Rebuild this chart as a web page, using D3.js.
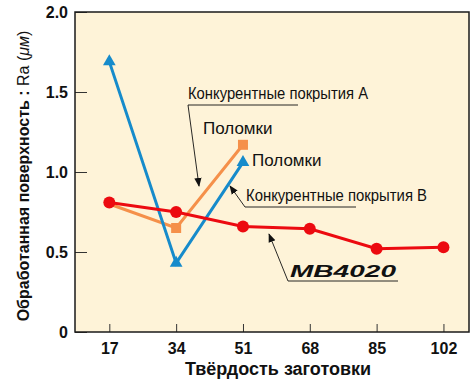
<!DOCTYPE html>
<html>
<head>
<meta charset="utf-8">
<script src="https://cdn.jsdelivr.net/npm/d3@7"></script>
<style>
  html, body { margin: 0; padding: 0; background: #ffffff; }
  svg { display: block; font-family: "Liberation Sans", Arial, sans-serif; }
</style>
</head>
<body>
<svg id="chart" width="470" height="380"></svg>
<script>
// Workpiece hardness on the x axis
const hardness = [17, 34, 51, 68, 85, 102];
// Surface roughness Ra (µm) for each tool
const mb4020 = [0.81, 0.75, 0.66, 0.645, 0.52, 0.53];
const hardnessA = [17, 34, 51];
const coatingA = [0.80, 0.65, 1.17];
const hardnessB = [17, 34, 51];
const coatingB = [1.69, 0.43, 1.06];
// Axis ticks
const yTicks = [0, 0.5, 1.0, 1.5, 2.0];
const yTickLabels = ["0", "0.5", "1.0", "1.5", "2.0"];

const svg = d3.select("#chart");
const plotL = 75, plotR = 469, plotT = 12, plotB = 332;

const x = d3.scaleLinear().domain([8.27, 108.5]).range([plotL, plotR]);
const y = d3.scaleLinear().domain([0, 2]).range([plotB, plotT]);

const RED = "#ec0a10", ORANGE = "#f5904a", BLUE = "#168bcb";

// plot background
svg.append("rect")
  .attr("x", plotL).attr("y", plotT)
  .attr("width", plotR - plotL).attr("height", plotB - plotT)
  .attr("fill", "#fef3d8");

// axes with inward ticks
const yAxis = d3.axisLeft(y).tickValues(yTicks)
  .tickFormat((d, i) => yTickLabels[i])
  .tickSizeInner(-12).tickSizeOuter(0).tickPadding(7);
const gy = svg.append("g").attr("transform", `translate(${plotL},0)`).call(yAxis);
gy.select(".domain").remove();
gy.selectAll("text").attr("x", -7)
  .style("font-size", "16px").style("font-weight", "bold").attr("fill", "#111");
gy.selectAll("line").attr("stroke", "#333").attr("stroke-width", 1);

const xAxis = d3.axisBottom(x).tickValues(hardness)
  .tickSizeInner(-8).tickSizeOuter(0).tickPadding(11);
const gx = svg.append("g").attr("transform", `translate(0,${plotB})`).call(xAxis);
gx.select(".domain").remove();
gx.selectAll("text")
  .style("font-size", "16px").style("font-weight", "bold").attr("fill", "#111");
gx.selectAll("line").attr("stroke", "#333").attr("stroke-width", 1);

// frame
svg.append("rect")
  .attr("x", plotL).attr("y", plotT)
  .attr("width", plotR - plotL).attr("height", plotB - plotT)
  .attr("fill", "none").attr("stroke", "#1a1a1a").attr("stroke-width", 1.5);

// series
const line = d3.line().x(d => x(d[0])).y(d => y(d[1]));
const ptsA = hardnessA.map((h, i) => [h, coatingA[i]]);
const ptsB = hardnessB.map((h, i) => [h, coatingB[i]]);
const ptsM = hardness.map((h, i) => [h, mb4020[i]]);

svg.append("path").datum(ptsA).attr("d", line)
  .attr("fill", "none").attr("stroke", ORANGE).attr("stroke-width", 3);
svg.selectAll(".sqA").data(ptsA.slice(1)).enter().append("rect")
  .attr("x", d => x(d[0]) - 5).attr("y", d => y(d[1]) - 5)
  .attr("width", 10).attr("height", 10).attr("fill", ORANGE);

svg.append("path").datum(ptsB).attr("d", line)
  .attr("fill", "none").attr("stroke", BLUE).attr("stroke-width", 3);
svg.selectAll(".triB").data(ptsB).enter().append("path")
  .attr("d", d3.symbol().type(d3.symbolTriangle).size(70))
  .attr("transform", d => `translate(${x(d[0])},${y(d[1])})`)
  .attr("fill", BLUE);

svg.append("path").datum(ptsM).attr("d", line)
  .attr("fill", "none").attr("stroke", RED).attr("stroke-width", 3);
svg.selectAll(".dotM").data(ptsM).enter().append("circle")
  .attr("cx", d => x(d[0])).attr("cy", d => y(d[1])).attr("r", 6)
  .attr("fill", RED);

// arrow marker for leaders
svg.append("defs").append("marker")
  .attr("id", "arr").attr("viewBox", "0 0 10 10")
  .attr("refX", 9).attr("refY", 5)
  .attr("markerWidth", 9).attr("markerHeight", 9)
  .attr("markerUnits", "userSpaceOnUse")
  .attr("orient", "auto")
  .append("path").attr("d", "M0,1 L10,5 L0,9 Z").attr("fill", "#111");

function leader(points) {
  svg.append("path")
    .attr("d", d3.line()(points))
    .attr("fill", "none").attr("stroke", "#111").attr("stroke-width", 0.9)
    .attr("marker-end", "url(#arr)");
}

// labels
const ann = svg.append("g").attr("fill", "#111");
ann.append("text").attr("x", 188).attr("y", 99)
  .attr("textLength", 180).attr("lengthAdjust", "spacingAndGlyphs")
  .style("font-size", "16px").text("Конкурентные покрытия A");
leader([[298, 105], [188, 105], [199, 186]]);

ann.append("text").attr("x", 203).attr("y", 134)
  .style("font-size", "17px").text("Поломки");
ann.append("text").attr("x", 252).attr("y", 166)
  .style("font-size", "17px").text("Поломки");

ann.append("text").attr("x", 246).attr("y", 201)
  .attr("textLength", 181).attr("lengthAdjust", "spacingAndGlyphs")
  .style("font-size", "16px").text("Конкурентные покрытия B");
leader([[356, 207], [245, 207], [230, 186]]);

ann.append("text").attr("x", 290).attr("y", 277)
  .attr("textLength", 106).attr("lengthAdjust", "spacingAndGlyphs")
  .style("font-size", "17px").style("font-weight", "bold").style("font-style", "italic")
  .text("MB4020");
leader([[398, 281], [288, 281], [269, 234]]);

// axis titles
const yt = svg.append("text")
  .attr("transform", "translate(29,176) rotate(-90)")
  .attr("text-anchor", "middle").attr("fill", "#111")
  .style("font-size", "16px");
yt.append("tspan").style("font-weight", "bold").text("Обработанная поверхность : ");
yt.append("tspan").text("Ra (");
yt.append("tspan").style("font-style", "italic").text("μм");
yt.append("tspan").text(")");

svg.append("text").attr("x", 278).attr("y", 375)
  .attr("text-anchor", "middle").attr("fill", "#111")
  .style("font-size", "18px").style("font-weight", "bold")
  .text("Твёрдость заготовки");
</script>
</body>
</html>
